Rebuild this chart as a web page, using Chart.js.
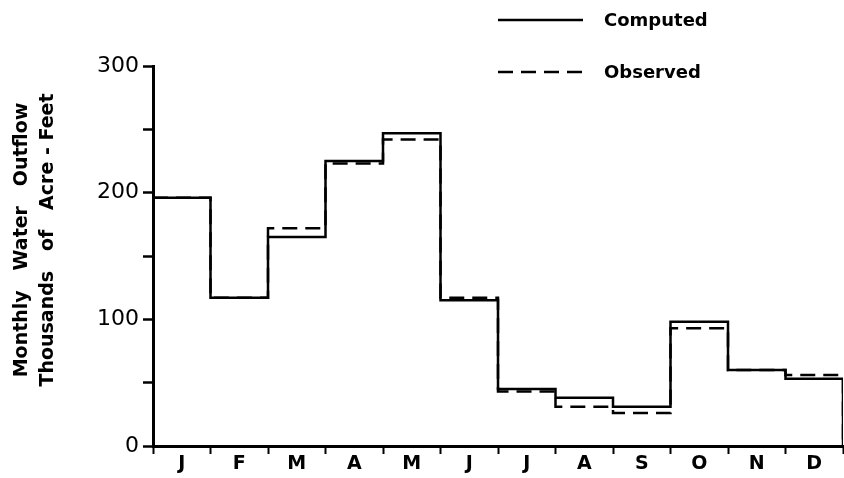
<!DOCTYPE html>
<html>
<head>
<meta charset="utf-8">
<script src="https://cdn.jsdelivr.net/npm/chart.js@4/dist/chart.umd.min.js"></script>
<style>
  html, body { margin: 0; padding: 0; background: #fff; }
  #wrap { width: 844px; height: 478px; position: relative; }
</style>
</head>
<body>
<div id="wrap"><canvas id="outflowChart"></canvas></div>
<script>
// monthly outflow, thousands of acre-feet
const months = ['J', 'F', 'M', 'A', 'M', 'J', 'J', 'A', 'S', 'O', 'N', 'D'];
const computed = [196, 117, 165, 225, 247, 115, 45, 38, 31, 98, 60, 53];
const observed = [196, 117, 172, 223, 242, 117, 43, 31, 26, 93, 60, 56];
const yTicks = [0, 100, 200, 300];
const yTitle = ['Monthly   Water   Outflow', 'Thousands   of   Acre - Feet'];

const FONT = '"DejaVu Sans", sans-serif';

// each month is a step from x=i to x=i+1, closed down to zero at the end
function toSteps(values) {
  const pts = values.map((v, i) => ({ x: i, y: v }));
  pts.push({ x: values.length, y: values[values.length - 1] });
  pts.push({ x: values.length, y: 0 });
  return pts;
}

// legend drawn by hand: short line sample, label to the right
const sideLegend = {
  id: 'sideLegend',
  afterDraw(chart) {
    const ctx = chart.ctx;
    const rows = [20, 72];
    chart.data.datasets.forEach((ds, i) => {
      const y = rows[i];
      ctx.save();
      ctx.strokeStyle = '#000';
      ctx.lineWidth = 2.5;
      ctx.setLineDash(ds.borderDash || []);
      ctx.beginPath();
      ctx.moveTo(498, y);
      ctx.lineTo(583, y);
      ctx.stroke();
      ctx.setLineDash([]);
      ctx.fillStyle = '#000';
      ctx.font = 'bold 18px ' + FONT;
      ctx.textBaseline = 'middle';
      ctx.fillText(ds.label, 604, y + 1);
      ctx.restore();
    });
  }
};

// two-line rotated y title, placed a little above the axis middle
const yTitlePlugin = {
  id: 'yTitle',
  afterDraw(chart) {
    const ctx = chart.ctx;
    const cols = [22, 48];
    ctx.save();
    ctx.fillStyle = '#000';
    ctx.font = 'bold 19px ' + FONT;
    ctx.textAlign = 'center';
    ctx.textBaseline = 'middle';
    yTitle.forEach((line, i) => {
      ctx.save();
      ctx.translate(cols[i], 240);
      ctx.rotate(-Math.PI / 2);
      ctx.fillText(line, 0, 0);
      ctx.restore();
    });
    ctx.restore();
  }
};

new Chart(document.getElementById('outflowChart'), {
  type: 'line',
  data: {
    datasets: [
      {
        label: 'Computed',
        data: toSteps(computed),
        borderColor: '#000',
        borderWidth: 2.5,
        stepped: 'before',
        pointRadius: 0,
        fill: false
      },
      {
        label: 'Observed',
        data: toSteps(observed),
        borderColor: '#000',
        borderWidth: 2.5,
        borderDash: [15, 8],
        stepped: 'before',
        pointRadius: 0,
        fill: false
      }
    ]
  },
  options: {
    responsive: true,
    maintainAspectRatio: false,
    animation: false,
    layout: { padding: { top: 66, right: 1, left: 0, bottom: 0 } },
    plugins: {
      legend: { display: false },
      tooltip: { enabled: false }
    },
    scales: {
      x: {
        type: 'linear',
        min: 0,
        max: months.length,
        afterBuildTicks(scale) {
          const t = [];
          for (let i = 0; i <= months.length * 2; i++) t.push({ value: i / 2 });
          scale.ticks = t;
        },
        afterFit(scale) { scale.height = 32; },
        ticks: {
          autoSkip: false,
          maxRotation: 0,
          padding: -1,
          color: '#000',
          font: { family: FONT, size: 19, weight: 'bold' },
          callback: v => (Number.isInteger(v) ? '' : months[Math.floor(v)])
        },
        grid: {
          drawOnChartArea: false,
          tickLength: 8,
          tickWidth: 2,
          tickColor: c => (c.tick && Number.isInteger(c.tick.value) ? '#000' : 'rgba(0,0,0,0)')
        },
        border: { display: true, color: '#000', width: 3 }
      },
      y: {
        min: 0,
        max: 300,
        afterBuildTicks(scale) {
          const t = [];
          for (let v = 0; v <= 300; v += 50) t.push({ value: v });
          scale.ticks = t;
        },
        afterFit(scale) { scale.width = 153; },
        ticks: {
          autoSkip: false,
          padding: 4,
          color: '#000',
          font: { family: FONT, size: 22 },
          callback: v => (yTicks.includes(v) ? String(v) : '')
        },
        grid: {
          drawOnChartArea: false,
          tickLength: 10,
          tickWidth: 2.5,
          tickColor: '#000'
        },
        border: { display: true, color: '#000', width: 3 }
      }
    }
  },
  plugins: [sideLegend, yTitlePlugin]
});
</script>
</body>
</html>
